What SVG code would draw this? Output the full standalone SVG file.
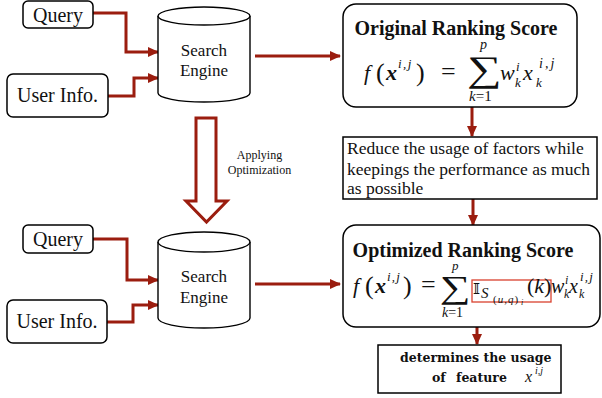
<svg xmlns="http://www.w3.org/2000/svg" width="602" height="398" viewBox="0 0 602 398">
<defs>
<style>
.box{fill:#fff;stroke:#000;stroke-width:1.5}
.cyl{fill:#fff;stroke:#000;stroke-width:1.4}
.t{font-family:"Liberation Serif","Times New Roman",serif;fill:#111}
.lbl{font-size:20px}
.se{font-size:17px;text-anchor:middle}
.ttl{font-size:20px;font-weight:bold;text-anchor:middle}
.rd{font-size:17.5px}
.m{font-family:"Liberation Serif","Times New Roman",serif;fill:#111}
.it{font-style:italic}
.bi{font-style:italic;font-weight:bold}
.con{fill:none;stroke:#9b1d0f;stroke-width:3}
.det{font-family:"DejaVu Serif",serif;font-weight:bold;font-size:12.5px;fill:#111}
</style>
<marker id="ah" markerUnits="userSpaceOnUse" markerWidth="11" markerHeight="10" refX="10" refY="5" orient="auto">
<path d="M0,0 L11,5 L0,10 Z" fill="#9b1d0f"/>
</marker>
</defs>

<g id="connectors">
<path class="con" d="M93,13 H126 V52 H158" marker-end="url(#ah)"/>
<path class="con" d="M108,96 H134 V78 H158" marker-end="url(#ah)"/>
<path class="con" d="M255,56 H340" marker-end="url(#ah)"/>
<path class="con" d="M472,107 V136" marker-end="url(#ah)"/>
<path class="con" d="M473,199 V225" marker-end="url(#ah)"/>
<path class="con" d="M93,239 H127 V280 H158" marker-end="url(#ah)"/>
<path class="con" d="M107,322 H133 V305 H158" marker-end="url(#ah)"/>
<path class="con" d="M255,284 H340" marker-end="url(#ah)"/>
<path class="con" d="M477,303 V344" marker-end="url(#ah)"/>
<polygon points="196,118 216,118 216,201 227,201 206.5,222 186,201 196,201" fill="#fff" stroke="#9b1d0f" stroke-width="3" stroke-linejoin="miter"/>
<text class="t" x="259.5" y="159" font-size="12" text-anchor="middle">Applying</text>
<text class="t" x="259.5" y="174" font-size="12" text-anchor="middle">Optimization</text>
</g>

<g id="query1">
<rect class="box" x="23" y="1" width="70" height="27" rx="5"/>
<text class="t lbl" x="58" y="22" text-anchor="middle">Query</text>
</g>
<g id="userinfo1">
<rect class="box" x="7" y="74" width="101" height="43" rx="6"/>
<text class="t lbl" x="57.5" y="102" text-anchor="middle">User Info.</text>
</g>
<g id="engine1">
<path class="cyl" d="M158,16 V93 A46,9 0 0 0 250,93 V16"/>
<ellipse class="cyl" cx="204" cy="16" rx="46" ry="9"/>
<text class="t se" x="204" y="56">Search</text>
<text class="t se" x="204" y="76">Engine</text>
</g>

<g id="original">
<rect class="box" x="343" y="4" width="234" height="103" rx="13"/>
<text class="t ttl" x="456" y="35">Original Ranking Score</text>
<text class="m it" x="364" y="80" font-size="22">f</text>
<text class="m" x="376" y="81" font-size="26">(</text>
<text class="m bi" x="386" y="80" font-size="22">x</text>
<text class="m it" x="398" y="68" font-size="13" letter-spacing="1.5">i,j</text>
<text class="m" x="416" y="81" font-size="26">)</text>
<text class="m" x="441" y="80" font-size="26">=</text>
<text class="m" font-size="36" transform="translate(467,81) scale(1.35,1)">∑</text>
<text class="m it" x="480" y="49" font-size="14">p</text>
<text class="m" x="469" y="101" font-size="15"><tspan class="it">k</tspan>=1</text>
<text class="m it" x="500" y="80" font-size="22">w</text>
<text class="m it" x="516" y="71" font-size="13">i</text>
<text class="m it" x="515" y="87" font-size="13">k</text>
<text class="m it" x="523" y="80" font-size="22">x</text>
<text class="m it" x="539" y="68" font-size="14" letter-spacing="2">i,j</text>
<text class="m it" x="536" y="87" font-size="13">k</text>
</g>

<g id="reduce">
<rect class="box" x="343" y="137" width="254" height="62"/>
<text class="t rd" x="347" y="154">Reduce the usage of factors while</text>
<text class="t rd" x="347" y="175">keepings the performance as much</text>
<text class="t rd" x="347" y="194">as possible</text>
</g>

<g id="query2">
<rect class="box" x="23" y="225" width="70" height="28" rx="5"/>
<text class="t lbl" x="58" y="246" text-anchor="middle">Query</text>
</g>
<g id="userinfo2">
<rect class="box" x="7" y="300" width="100" height="43" rx="6"/>
<text class="t lbl" x="57" y="328" text-anchor="middle">User Info.</text>
</g>
<g id="engine2">
<path class="cyl" d="M158,242 V318 A46,10 0 0 0 250,318 V242"/>
<ellipse class="cyl" cx="204" cy="242" rx="46" ry="10"/>
<text class="t se" x="204" y="282">Search</text>
<text class="t se" x="204" y="303">Engine</text>
</g>

<g id="optimized">
<rect class="box" x="343" y="225" width="257" height="102" rx="13"/>
<text class="t ttl" x="463" y="257">Optimized Ranking Score</text>
<text class="m it" x="353" y="293" font-size="22">f</text>
<text class="m" x="365" y="294" font-size="26">(</text>
<text class="m bi" x="375" y="293" font-size="22">x</text>
<text class="m it" x="387" y="281" font-size="13" letter-spacing="1.2">i,j</text>
<text class="m" x="403" y="294" font-size="26">)</text>
<text class="m" x="421" y="293" font-size="26">=</text>
<text class="m" font-size="32" transform="translate(440,298) scale(1.35,1)">∑</text>
<text class="m it" x="452" y="270" font-size="13">p</text>
<text class="m" x="442" y="317" font-size="14"><tspan class="it">k</tspan>=1</text>
<rect x="472" y="280" width="79" height="22" fill="none" stroke="#d9412e" stroke-width="1.3"/>
<text x="473" y="294" font-family="DejaVu Serif,DejaVu Sans,serif" font-size="15" fill="#111">𝕀</text>
<text class="m it" x="481" y="298" font-size="15">S</text>
<text class="m" x="493" y="303" font-size="11" letter-spacing="1"><tspan>(</tspan><tspan class="it">u</tspan><tspan>,</tspan><tspan class="it">q</tspan><tspan>)</tspan></text>
<text class="m it" x="521" y="305" font-size="8">i</text>
<text class="m" x="527" y="293" font-size="22"><tspan>(</tspan><tspan class="it">k</tspan><tspan>)</tspan></text>
<text class="m it" x="551" y="293" font-size="20">w</text>
<text class="m it" x="565" y="284" font-size="12">i</text>
<text class="m it" x="564" y="298" font-size="12">k</text>
<text class="m it" x="569" y="293" font-size="20">x</text>
<text class="m it" x="580" y="281" font-size="13" letter-spacing="1.2">i,j</text>
<text class="m it" x="579" y="298" font-size="12">k</text>
</g>

<g id="determines">
<rect class="box" x="378" y="345" width="183" height="48"/>
<text class="det" x="400" y="362">determines the usage</text>
<text class="det" x="432" y="382">of</text>
<text class="det" x="456" y="382">feature</text>
<text class="m it" x="525" y="382" font-size="16" fill="#555">x</text>
<text class="m it" x="535" y="374" font-size="10" fill="#555">i,j</text>
</g>
</svg>
